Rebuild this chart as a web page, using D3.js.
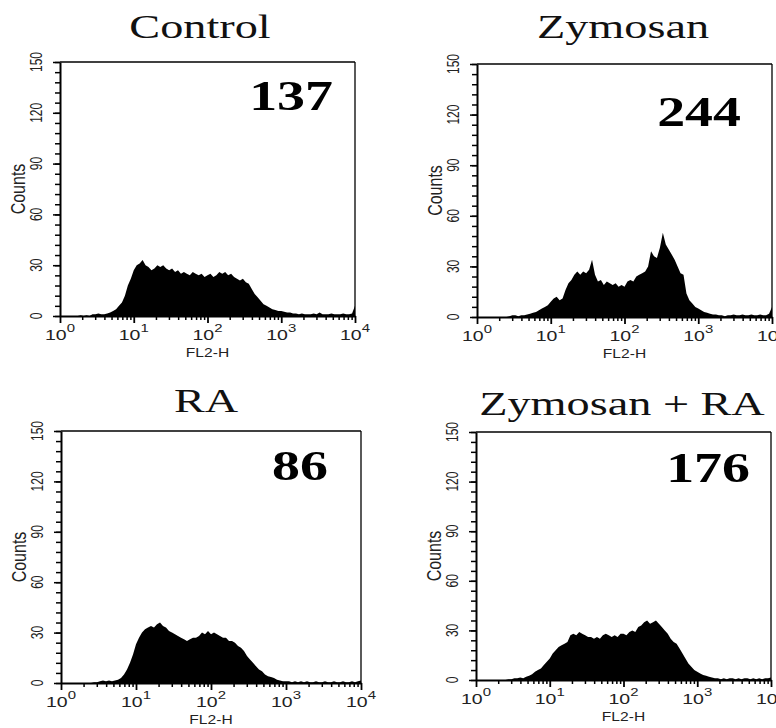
<!DOCTYPE html>
<html>
<head>
<style>
  body{ margin:0; background:#fff; }
  .title{ font-family:"Liberation Serif","Times New Roman",serif; font-size:34px; fill:#111; }
  .mfi{ font-family:"Liberation Serif","Times New Roman",serif; font-weight:bold; font-size:43px; fill:#000; }
  .lbl{ font-family:"Liberation Sans",Arial,sans-serif; fill:#222; }
  .axis path, .axis line{ stroke:#000; }
</style>
<script src="https://d3js.org/d3.v7.min.js"></script>
</head>
<body>
<svg id="chart" width="776" height="728"></svg>
<script>
// panel names and the mean fluorescence printed in each panel
const titles = ['Control', 'Zymosan', 'RA', 'Zymosan + RA'];
const mfiValues = [137, 244, 86, 176];
const yTicks = [0, 30, 60, 90, 120, 150];
const xDecades = [0, 1, 2, 3, 4];
const logStep = 0.04; // each count below is one bin of 0.04 decade, from 10^0 to 10^4

const controlCounts = [
  0,0,0,0,0,0,0,0.5,0,0.5,
  0,1,1,1.5,1,1,1.5,2,3,4,
  6,8,12,18,22,27,30,31,33,30,
  29,27,28,30,29,30,28,27,28,26,
  27,25,26,25,24,26,25,24,25,23,
  24,25,23,24,26,25,26,24,25,23,
  22,21,22,20,19,16,13,11,9,7,
  6,5,4,3.5,3,3,2.5,2,2,1.5,
  1.5,1,1.5,1,1,1,1.5,1,2,1,
  1,1,1.5,1,1,1,1.5,1,1,1.5,
  6
];
const zymosanCounts = [
  0,0,0,0,0,0,0,0,0,0,
  0,0.5,1,1,0.5,1,1,1.5,2,2.5,
  3,4,5,6,7,9,11,12,10,11,
  16,20,22,25,27,25,27,26,28,34,
  25,21,22,19,21,20,19,20,18,19,
  18,21,22,21,24,25,26,27,30,39,
  36,35,41,50,43,40,37,34,30,26,
  25,14,10,8,6,5,4,3,2.5,2,
  1.5,1.5,1,1,0.5,1,1,1.5,1,1,
  1.5,1,1,1.5,1,1,1.5,1,1,2,
  6
];
const raCounts = [
  0,0,0,0,0,0,0,0,0,0,
  0,0.5,0.5,1,1.5,1,1.5,1,1.5,2,
  3,5,8,12,17,23,27,30,32,33,
  34,33,35,36,34,33,31,30,29,28,
  27,26,25,26,27,27,28,30,29,31,
  29,30,29,28,27,27,25,25,24,22,
  21,19,16,14,12,10,8,7,5,4,
  3.5,3,2,1.5,1,1,1,0.5,1,0.5,
  1,0.5,1,0.5,0.5,1,0.5,0.5,1,0.5,
  0.5,1,0.5,0.5,1,0.5,0.5,1,0.5,1,
  1.5
];
const zymosanRaCounts = [
  0,0,0,0,0,0,0,0,0,0,
  0,0.5,0.5,1,1,1.5,1,2,2.5,3.5,
  5,6,7,9,11,13,16,18,20,21,
  22,23,27,28,27,29,28,27,26,26,
  25,26,25,27,28,27,26,27,26,28,
  28,27,29,30,29,32,33,35,36,34,
  35,36,34,32,30,28,25,23,22,19,
  16,13,10,8,6,5,4,3,2.5,2,
  1.5,1,1,0.5,1,0.5,1,1,0.5,1,
  0.5,1,1,0.5,1,0.5,1,0.5,1,1,
  1.5
];
const seriesList = [controlCounts, zymosanCounts, raCounts, zymosanRaCounts];

// where each plot box sits on the page (the source figure is stretched sideways)
const layout = [
  {x0:60,  x1:355, yB:316, yT:62,  titleX:200, titleY:38,  mfiX:333, mfiY:110},
  {x0:477, x1:772, yB:317, yT:64,  titleX:623, titleY:38,  mfiX:741, mfiY:126},
  {x0:61,  x1:361, yB:683, yT:431, titleX:206, titleY:412, mfiX:328, mfiY:480},
  {x0:476, x1:771, yB:680, yT:432, titleX:622, titleY:415, mfiX:750, mfiY:482}
];
const sx = 1.3; // horizontal stretch of the lettering

const svg = d3.select('#chart');
svg.append('rect').attr('width', 776).attr('height', 728).attr('fill', '#fff');

layout.forEach((p, k) => {
  const g = svg.append('g');
  const x = d3.scaleLog().domain([1, 1e4]).range([p.x0, p.x1]);
  const y = d3.scaleLinear().domain([0, 150]).range([p.yB, p.yT]);

  // histogram
  const counts = seriesList[k];
  const area = d3.area()
    .x((d, i) => x(Math.pow(10, i * logStep)))
    .y0(y(0))
    .y1(d => y(d))
    .curve(d3.curveLinear);
  g.append('path').datum(counts).attr('d', area).attr('fill', '#000');

  // frame top and right
  g.append('line').attr('x1', x(1)).attr('x2', x(1e4)).attr('y1', y(150)).attr('y2', y(150))
    .attr('stroke', '#000').attr('stroke-width', 1.6);
  g.append('line').attr('x1', x(1e4)).attr('x2', x(1e4)).attr('y1', y(150)).attr('y2', y(0))
    .attr('stroke', '#000').attr('stroke-width', 1.3);

  // y axis: minor ticks every 6, major every 30
  g.append('g').attr('class', 'axis').attr('transform', `translate(${p.x0},0)`)
    .call(d3.axisLeft(y).tickValues(d3.range(0, 151, 6)).tickSize(5).tickSizeOuter(0).tickFormat(''))
    .call(a => a.select('.domain').attr('stroke-width', 2))
    .call(a => a.selectAll('line').attr('stroke-width', 1.5));
  g.append('g').attr('class', 'axis').attr('transform', `translate(${p.x0},0)`)
    .call(d3.axisLeft(y).tickValues(yTicks).tickSize(7).tickSizeOuter(0).tickFormat(''))
    .call(a => a.select('.domain').remove())
    .call(a => a.selectAll('line').attr('stroke-width', 1.5));
  g.selectAll('.ylab').data(yTicks).join('text')
    .attr('class', 'lbl')
    .attr('font-size', 12)
    .attr('text-anchor', 'middle')
    .attr('transform', d => `translate(${p.x0 - 18},${y(d)}) scale(${sx},1) rotate(-90)`)
    .text(d => d);
  g.append('text').attr('class', 'lbl')
    .attr('font-size', 16)
    .attr('text-anchor', 'middle')
    .attr('transform', `translate(${p.x0 - 35},${y(75)}) scale(${sx},1) rotate(-90)`)
    .text('Counts');

  // x axis: log decades with minor ticks 2..9
  const minor = [];
  for (let d = 0; d < 4; d++) for (let m = 2; m < 10; m++) minor.push(m * Math.pow(10, d));
  g.append('g').attr('class', 'axis').attr('transform', `translate(0,${p.yB})`)
    .call(d3.axisBottom(x).tickValues(minor).tickSize(4).tickSizeOuter(0).tickFormat(''))
    .call(a => a.select('.domain').attr('stroke-width', 2.2))
    .call(a => a.selectAll('line').attr('stroke-width', 1.5));
  g.append('g').attr('class', 'axis').attr('transform', `translate(0,${p.yB})`)
    .call(d3.axisBottom(x).tickValues(xDecades.map(e => Math.pow(10, e))).tickSize(7).tickSizeOuter(0).tickFormat(''))
    .call(a => a.select('.domain').remove())
    .call(a => a.selectAll('line').attr('stroke-width', 1.8));
  const xl = g.selectAll('.xlab').data(xDecades).join('text')
    .attr('class', 'lbl')
    .attr('font-size', 15)
    .attr('text-anchor', 'middle')
    .attr('transform', e => `translate(${x(Math.pow(10, e))},${p.yB + 24}) scale(${sx},1)`);
  xl.append('tspan').text('10');
  xl.append('tspan').attr('font-size', 11.5).attr('dy', -8).text(e => e);
  g.append('text').attr('class', 'lbl')
    .attr('font-size', 12)
    .attr('text-anchor', 'middle')
    .attr('transform', `translate(${(p.x0 + p.x1) / 2},${p.yB + 41}) scale(${sx},1)`)
    .text('FL2-H');

  // title and value
  g.append('text').attr('class', 'title')
    .attr('text-anchor', 'middle')
    .attr('transform', `translate(${p.titleX},${p.titleY}) scale(1.36,1)`)
    .text(titles[k]);
  g.append('text').attr('class', 'mfi')
    .attr('text-anchor', 'end')
    .attr('transform', `translate(${p.mfiX},${p.mfiY}) scale(${sx},1)`)
    .text(mfiValues[k]);
});
</script>
</body>
</html>
